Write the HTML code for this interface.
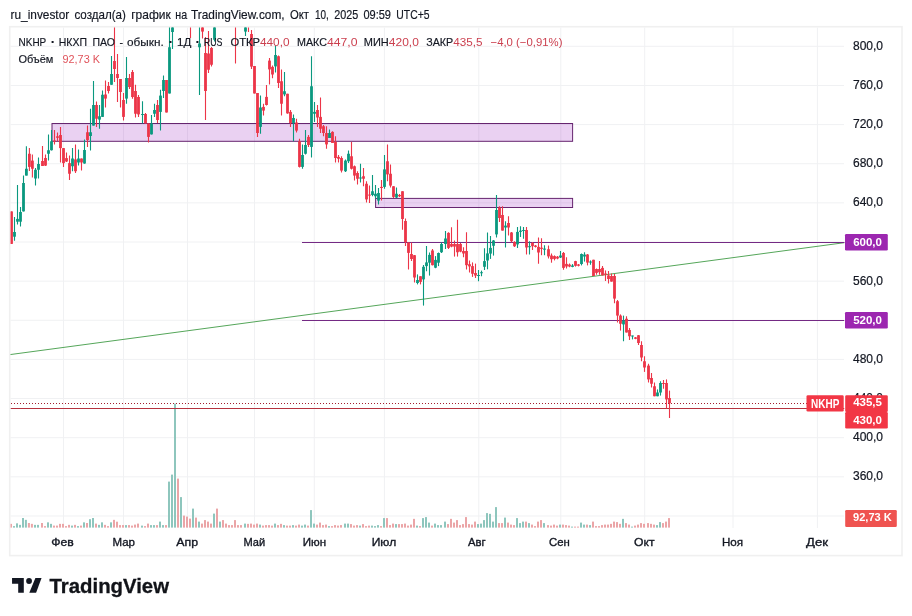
<!DOCTYPE html>
<html lang="ru"><head><meta charset="utf-8"><title>NKHP chart</title>
<style>html,body{margin:0;padding:0;background:#fff}body{width:912px;height:616px;position:relative;overflow:hidden;font-family:"Liberation Sans",sans-serif}</style>
</head><body>
<svg width="912" height="616" viewBox="0 0 912 616" style="position:absolute;left:0;top:0">
<defs><clipPath id="pane"><rect x="10.5" y="27.5" width="834" height="500.5"/></clipPath></defs>
<rect x="9.7" y="26.7" width="892.3" height="528.9" fill="#fff" stroke="#f0f0f0" stroke-width="1.6"/>
<line x1="10.5" x2="844" y1="46.30" y2="46.30" stroke="#f0f1f3" stroke-width="1"/>
<line x1="10.5" x2="844" y1="85.44" y2="85.44" stroke="#f0f1f3" stroke-width="1"/>
<line x1="10.5" x2="844" y1="124.58" y2="124.58" stroke="#f0f1f3" stroke-width="1"/>
<line x1="10.5" x2="844" y1="163.72" y2="163.72" stroke="#f0f1f3" stroke-width="1"/>
<line x1="10.5" x2="844" y1="202.86" y2="202.86" stroke="#f0f1f3" stroke-width="1"/>
<line x1="10.5" x2="844" y1="242.00" y2="242.00" stroke="#f0f1f3" stroke-width="1"/>
<line x1="10.5" x2="844" y1="281.14" y2="281.14" stroke="#f0f1f3" stroke-width="1"/>
<line x1="10.5" x2="844" y1="320.28" y2="320.28" stroke="#f0f1f3" stroke-width="1"/>
<line x1="10.5" x2="844" y1="359.42" y2="359.42" stroke="#f0f1f3" stroke-width="1"/>
<line x1="10.5" x2="844" y1="398.56" y2="398.56" stroke="#f0f1f3" stroke-width="1"/>
<line x1="10.5" x2="844" y1="437.70" y2="437.70" stroke="#f0f1f3" stroke-width="1"/>
<line x1="10.5" x2="844" y1="476.84" y2="476.84" stroke="#f0f1f3" stroke-width="1"/>
<line x1="10.5" x2="844" y1="515.98" y2="515.98" stroke="#f0f1f3" stroke-width="1"/>
<line x1="63.5" x2="63.5" y1="27.5" y2="528" stroke="#f0f1f3" stroke-width="1"/>
<line x1="123.5" x2="123.5" y1="27.5" y2="528" stroke="#f0f1f3" stroke-width="1"/>
<line x1="187.5" x2="187.5" y1="27.5" y2="528" stroke="#f0f1f3" stroke-width="1"/>
<line x1="254.5" x2="254.5" y1="27.5" y2="528" stroke="#f0f1f3" stroke-width="1"/>
<line x1="314.3" x2="314.3" y1="27.5" y2="528" stroke="#f0f1f3" stroke-width="1"/>
<line x1="384.4" x2="384.4" y1="27.5" y2="528" stroke="#f0f1f3" stroke-width="1"/>
<line x1="478.8" x2="478.8" y1="27.5" y2="528" stroke="#f0f1f3" stroke-width="1"/>
<line x1="560.8" x2="560.8" y1="27.5" y2="528" stroke="#f0f1f3" stroke-width="1"/>
<line x1="644.7" x2="644.7" y1="27.5" y2="528" stroke="#f0f1f3" stroke-width="1"/>
<line x1="733" x2="733" y1="27.5" y2="528" stroke="#f0f1f3" stroke-width="1"/>
<line x1="817.4" x2="817.4" y1="27.5" y2="528" stroke="#f0f1f3" stroke-width="1"/>
<g clip-path="url(#pane)">
<rect x="10.0" y="523.85" width="2" height="3.75" fill="#eba5a7"/>
<rect x="13.0" y="526.10" width="2" height="1.50" fill="#8ec6bd"/>
<rect x="16.0" y="523.35" width="2" height="4.25" fill="#8ec6bd"/>
<rect x="19.0" y="524.85" width="2" height="2.75" fill="#8ec6bd"/>
<rect x="22.0" y="518.00" width="2" height="9.60" fill="#8ec6bd"/>
<rect x="24.9" y="519.85" width="2" height="7.75" fill="#8ec6bd"/>
<rect x="27.9" y="523.00" width="2" height="4.60" fill="#eba5a7"/>
<rect x="30.9" y="523.85" width="2" height="3.75" fill="#eba5a7"/>
<rect x="34.0" y="524.85" width="2" height="2.75" fill="#8ec6bd"/>
<rect x="37.0" y="524.85" width="2" height="2.75" fill="#8ec6bd"/>
<rect x="41.0" y="523.00" width="2" height="4.60" fill="#eba5a7"/>
<rect x="44.0" y="526.10" width="2" height="1.50" fill="#eba5a7"/>
<rect x="47.0" y="522.35" width="2" height="5.25" fill="#8ec6bd"/>
<rect x="50.0" y="523.85" width="2" height="3.75" fill="#8ec6bd"/>
<rect x="53.0" y="525.60" width="2" height="2.00" fill="#eba5a7"/>
<rect x="56.0" y="525.60" width="2" height="2.00" fill="#eba5a7"/>
<rect x="59.0" y="523.85" width="2" height="3.75" fill="#eba5a7"/>
<rect x="62.0" y="523.85" width="2" height="3.75" fill="#eba5a7"/>
<rect x="65.0" y="526.10" width="2" height="1.50" fill="#eba5a7"/>
<rect x="68.0" y="524.85" width="2" height="2.75" fill="#eba5a7"/>
<rect x="71.0" y="525.60" width="2" height="2.00" fill="#8ec6bd"/>
<rect x="74.0" y="524.85" width="2" height="2.75" fill="#eba5a7"/>
<rect x="77.0" y="526.10" width="2" height="1.50" fill="#8ec6bd"/>
<rect x="80.0" y="525.60" width="2" height="2.00" fill="#eba5a7"/>
<rect x="83.0" y="522.35" width="2" height="5.25" fill="#8ec6bd"/>
<rect x="86.0" y="523.00" width="2" height="4.60" fill="#eba5a7"/>
<rect x="89.0" y="519.20" width="2" height="8.40" fill="#8ec6bd"/>
<rect x="92.0" y="518.00" width="2" height="9.60" fill="#8ec6bd"/>
<rect x="95.0" y="523.60" width="2" height="4.00" fill="#eba5a7"/>
<rect x="98.0" y="524.85" width="2" height="2.75" fill="#8ec6bd"/>
<rect x="101.0" y="522.35" width="2" height="5.25" fill="#8ec6bd"/>
<rect x="104.0" y="524.85" width="2" height="2.75" fill="#eba5a7"/>
<rect x="107.0" y="526.10" width="2" height="1.50" fill="#eba5a7"/>
<rect x="110.0" y="522.35" width="2" height="5.25" fill="#8ec6bd"/>
<rect x="113.0" y="519.85" width="2" height="7.75" fill="#eba5a7"/>
<rect x="116.0" y="521.70" width="2" height="5.90" fill="#eba5a7"/>
<rect x="119.0" y="525.10" width="2" height="2.50" fill="#eba5a7"/>
<rect x="122.0" y="525.10" width="2" height="2.50" fill="#eba5a7"/>
<rect x="125.0" y="525.10" width="2" height="2.50" fill="#8ec6bd"/>
<rect x="128.0" y="525.10" width="2" height="2.50" fill="#eba5a7"/>
<rect x="131.0" y="525.60" width="2" height="2.00" fill="#eba5a7"/>
<rect x="134.0" y="524.60" width="2" height="3.00" fill="#eba5a7"/>
<rect x="137.0" y="523.60" width="2" height="4.00" fill="#eba5a7"/>
<rect x="141.0" y="525.60" width="2" height="2.00" fill="#8ec6bd"/>
<rect x="144.0" y="526.10" width="2" height="1.50" fill="#eba5a7"/>
<rect x="147.0" y="523.60" width="2" height="4.00" fill="#eba5a7"/>
<rect x="150.0" y="525.10" width="2" height="2.50" fill="#8ec6bd"/>
<rect x="153.0" y="525.10" width="2" height="2.50" fill="#8ec6bd"/>
<rect x="156.0" y="525.10" width="2" height="2.50" fill="#eba5a7"/>
<rect x="159.0" y="521.60" width="2" height="6.00" fill="#8ec6bd"/>
<rect x="162.0" y="525.10" width="2" height="2.50" fill="#8ec6bd"/>
<rect x="165.0" y="525.10" width="2" height="2.50" fill="#eba5a7"/>
<rect x="168.0" y="481.60" width="2" height="46.00" fill="#8ec6bd"/>
<rect x="171.0" y="474.60" width="2" height="53.00" fill="#8ec6bd"/>
<rect x="174.0" y="403.60" width="2" height="124.00" fill="#8ec6bd"/>
<rect x="177.0" y="478.60" width="2" height="49.00" fill="#eba5a7"/>
<rect x="180.0" y="497.10" width="2" height="30.50" fill="#8ec6bd"/>
<rect x="183.0" y="515.60" width="2" height="12.00" fill="#eba5a7"/>
<rect x="186.0" y="516.60" width="2" height="11.00" fill="#eba5a7"/>
<rect x="189.0" y="518.60" width="2" height="9.00" fill="#eba5a7"/>
<rect x="192.0" y="508.60" width="2" height="19.00" fill="#8ec6bd"/>
<rect x="195.0" y="517.60" width="2" height="10.00" fill="#eba5a7"/>
<rect x="198.0" y="521.60" width="2" height="6.00" fill="#8ec6bd"/>
<rect x="201.0" y="523.60" width="2" height="4.00" fill="#eba5a7"/>
<rect x="204.0" y="520.10" width="2" height="7.50" fill="#eba5a7"/>
<rect x="207.0" y="521.60" width="2" height="6.00" fill="#eba5a7"/>
<rect x="210.0" y="523.60" width="2" height="4.00" fill="#eba5a7"/>
<rect x="213.0" y="513.60" width="2" height="14.00" fill="#8ec6bd"/>
<rect x="216.0" y="508.60" width="2" height="19.00" fill="#eba5a7"/>
<rect x="219.0" y="521.60" width="2" height="6.00" fill="#8ec6bd"/>
<rect x="222.0" y="520.10" width="2" height="7.50" fill="#eba5a7"/>
<rect x="225.0" y="523.60" width="2" height="4.00" fill="#eba5a7"/>
<rect x="228.0" y="525.10" width="2" height="2.50" fill="#eba5a7"/>
<rect x="231.0" y="525.10" width="2" height="2.50" fill="#eba5a7"/>
<rect x="234.0" y="520.10" width="2" height="7.50" fill="#eba5a7"/>
<rect x="237.0" y="525.10" width="2" height="2.50" fill="#eba5a7"/>
<rect x="240.0" y="525.10" width="2" height="2.50" fill="#eba5a7"/>
<rect x="244.0" y="523.60" width="2" height="4.00" fill="#8ec6bd"/>
<rect x="247.0" y="523.85" width="2" height="3.75" fill="#eba5a7"/>
<rect x="250.0" y="523.60" width="2" height="4.00" fill="#eba5a7"/>
<rect x="253.0" y="524.60" width="2" height="3.00" fill="#eba5a7"/>
<rect x="256.0" y="523.60" width="2" height="4.00" fill="#eba5a7"/>
<rect x="259.0" y="524.60" width="2" height="3.00" fill="#8ec6bd"/>
<rect x="262.0" y="525.60" width="2" height="2.00" fill="#eba5a7"/>
<rect x="265.0" y="525.10" width="2" height="2.50" fill="#eba5a7"/>
<rect x="268.0" y="525.10" width="2" height="2.50" fill="#eba5a7"/>
<rect x="271.0" y="525.60" width="2" height="2.00" fill="#eba5a7"/>
<rect x="274.0" y="523.60" width="2" height="4.00" fill="#8ec6bd"/>
<rect x="277.0" y="525.10" width="2" height="2.50" fill="#eba5a7"/>
<rect x="280.0" y="523.85" width="2" height="3.75" fill="#eba5a7"/>
<rect x="283.0" y="525.10" width="2" height="2.50" fill="#8ec6bd"/>
<rect x="286.0" y="525.60" width="2" height="2.00" fill="#eba5a7"/>
<rect x="289.0" y="525.60" width="2" height="2.00" fill="#eba5a7"/>
<rect x="292.0" y="525.10" width="2" height="2.50" fill="#8ec6bd"/>
<rect x="295.0" y="525.60" width="2" height="2.00" fill="#eba5a7"/>
<rect x="298.0" y="524.60" width="2" height="3.00" fill="#eba5a7"/>
<rect x="301.0" y="525.60" width="2" height="2.00" fill="#8ec6bd"/>
<rect x="304.0" y="524.60" width="2" height="3.00" fill="#8ec6bd"/>
<rect x="307.0" y="525.60" width="2" height="2.00" fill="#eba5a7"/>
<rect x="310.0" y="510.10" width="2" height="17.50" fill="#8ec6bd"/>
<rect x="313.0" y="523.60" width="2" height="4.00" fill="#8ec6bd"/>
<rect x="316.0" y="524.60" width="2" height="3.00" fill="#eba5a7"/>
<rect x="319.0" y="522.60" width="2" height="5.00" fill="#eba5a7"/>
<rect x="322.0" y="525.10" width="2" height="2.50" fill="#eba5a7"/>
<rect x="325.0" y="524.60" width="2" height="3.00" fill="#eba5a7"/>
<rect x="328.0" y="526.10" width="2" height="1.50" fill="#8ec6bd"/>
<rect x="331.0" y="526.10" width="2" height="1.50" fill="#eba5a7"/>
<rect x="334.0" y="525.10" width="2" height="2.50" fill="#eba5a7"/>
<rect x="337.0" y="525.60" width="2" height="2.00" fill="#eba5a7"/>
<rect x="340.0" y="525.10" width="2" height="2.50" fill="#eba5a7"/>
<rect x="344.0" y="523.60" width="2" height="4.00" fill="#8ec6bd"/>
<rect x="347.0" y="523.60" width="2" height="4.00" fill="#8ec6bd"/>
<rect x="350.0" y="524.10" width="2" height="3.50" fill="#eba5a7"/>
<rect x="353.0" y="525.60" width="2" height="2.00" fill="#eba5a7"/>
<rect x="356.0" y="525.10" width="2" height="2.50" fill="#eba5a7"/>
<rect x="359.0" y="525.60" width="2" height="2.00" fill="#8ec6bd"/>
<rect x="362.0" y="524.10" width="2" height="3.50" fill="#eba5a7"/>
<rect x="365.0" y="526.10" width="2" height="1.50" fill="#eba5a7"/>
<rect x="368.0" y="525.60" width="2" height="2.00" fill="#eba5a7"/>
<rect x="371.0" y="525.60" width="2" height="2.00" fill="#8ec6bd"/>
<rect x="374.0" y="526.10" width="2" height="1.50" fill="#8ec6bd"/>
<rect x="377.0" y="525.10" width="2" height="2.50" fill="#8ec6bd"/>
<rect x="380.0" y="526.10" width="2" height="1.50" fill="#eba5a7"/>
<rect x="383.0" y="518.10" width="2" height="9.50" fill="#8ec6bd"/>
<rect x="386.0" y="518.10" width="2" height="9.50" fill="#eba5a7"/>
<rect x="389.0" y="525.10" width="2" height="2.50" fill="#eba5a7"/>
<rect x="392.0" y="523.60" width="2" height="4.00" fill="#eba5a7"/>
<rect x="395.0" y="524.10" width="2" height="3.50" fill="#8ec6bd"/>
<rect x="398.0" y="524.10" width="2" height="3.50" fill="#eba5a7"/>
<rect x="401.0" y="524.10" width="2" height="3.50" fill="#eba5a7"/>
<rect x="404.0" y="523.60" width="2" height="4.00" fill="#eba5a7"/>
<rect x="407.0" y="525.60" width="2" height="2.00" fill="#eba5a7"/>
<rect x="410.0" y="524.60" width="2" height="3.00" fill="#eba5a7"/>
<rect x="413.0" y="518.85" width="2" height="8.75" fill="#eba5a7"/>
<rect x="416.0" y="525.60" width="2" height="2.00" fill="#8ec6bd"/>
<rect x="419.0" y="526.10" width="2" height="1.50" fill="#eba5a7"/>
<rect x="422.0" y="518.10" width="2" height="9.50" fill="#8ec6bd"/>
<rect x="425.0" y="517.10" width="2" height="10.50" fill="#8ec6bd"/>
<rect x="428.0" y="522.60" width="2" height="5.00" fill="#8ec6bd"/>
<rect x="431.0" y="525.60" width="2" height="2.00" fill="#eba5a7"/>
<rect x="434.0" y="523.60" width="2" height="4.00" fill="#8ec6bd"/>
<rect x="437.0" y="525.10" width="2" height="2.50" fill="#8ec6bd"/>
<rect x="440.0" y="525.10" width="2" height="2.50" fill="#8ec6bd"/>
<rect x="444.0" y="521.60" width="2" height="6.00" fill="#8ec6bd"/>
<rect x="447.0" y="524.10" width="2" height="3.50" fill="#eba5a7"/>
<rect x="450.0" y="518.85" width="2" height="8.75" fill="#eba5a7"/>
<rect x="453.0" y="522.60" width="2" height="5.00" fill="#eba5a7"/>
<rect x="456.0" y="520.10" width="2" height="7.50" fill="#eba5a7"/>
<rect x="459.0" y="525.10" width="2" height="2.50" fill="#eba5a7"/>
<rect x="462.0" y="524.10" width="2" height="3.50" fill="#eba5a7"/>
<rect x="465.0" y="517.10" width="2" height="10.50" fill="#eba5a7"/>
<rect x="468.0" y="524.10" width="2" height="3.50" fill="#eba5a7"/>
<rect x="471.0" y="524.60" width="2" height="3.00" fill="#eba5a7"/>
<rect x="474.0" y="521.60" width="2" height="6.00" fill="#eba5a7"/>
<rect x="477.0" y="524.10" width="2" height="3.50" fill="#8ec6bd"/>
<rect x="480.0" y="523.60" width="2" height="4.00" fill="#8ec6bd"/>
<rect x="483.0" y="520.10" width="2" height="7.50" fill="#8ec6bd"/>
<rect x="486.0" y="513.10" width="2" height="14.50" fill="#8ec6bd"/>
<rect x="489.0" y="513.85" width="2" height="13.75" fill="#8ec6bd"/>
<rect x="492.0" y="521.60" width="2" height="6.00" fill="#8ec6bd"/>
<rect x="495.0" y="507.10" width="2" height="20.50" fill="#8ec6bd"/>
<rect x="498.0" y="523.10" width="2" height="4.50" fill="#eba5a7"/>
<rect x="501.0" y="523.10" width="2" height="4.50" fill="#eba5a7"/>
<rect x="504.0" y="517.60" width="2" height="10.00" fill="#8ec6bd"/>
<rect x="507.0" y="522.60" width="2" height="5.00" fill="#eba5a7"/>
<rect x="510.0" y="524.60" width="2" height="3.00" fill="#eba5a7"/>
<rect x="513.0" y="525.10" width="2" height="2.50" fill="#eba5a7"/>
<rect x="516.0" y="518.10" width="2" height="9.50" fill="#8ec6bd"/>
<rect x="519.0" y="523.10" width="2" height="4.50" fill="#8ec6bd"/>
<rect x="522.0" y="521.60" width="2" height="6.00" fill="#8ec6bd"/>
<rect x="525.0" y="521.60" width="2" height="6.00" fill="#eba5a7"/>
<rect x="528.0" y="523.10" width="2" height="4.50" fill="#8ec6bd"/>
<rect x="531.0" y="524.60" width="2" height="3.00" fill="#eba5a7"/>
<rect x="534.0" y="526.10" width="2" height="1.50" fill="#eba5a7"/>
<rect x="537.0" y="521.60" width="2" height="6.00" fill="#eba5a7"/>
<rect x="540.0" y="520.10" width="2" height="7.50" fill="#eba5a7"/>
<rect x="543.0" y="523.10" width="2" height="4.50" fill="#8ec6bd"/>
<rect x="547.0" y="525.10" width="2" height="2.50" fill="#eba5a7"/>
<rect x="550.0" y="525.60" width="2" height="2.00" fill="#eba5a7"/>
<rect x="553.0" y="524.60" width="2" height="3.00" fill="#eba5a7"/>
<rect x="556.0" y="525.60" width="2" height="2.00" fill="#eba5a7"/>
<rect x="559.0" y="524.60" width="2" height="3.00" fill="#8ec6bd"/>
<rect x="562.0" y="524.60" width="2" height="3.00" fill="#eba5a7"/>
<rect x="565.0" y="525.10" width="2" height="2.50" fill="#eba5a7"/>
<rect x="568.0" y="525.60" width="2" height="2.00" fill="#eba5a7"/>
<rect x="571.0" y="526.60" width="2" height="1.00" fill="#8ec6bd"/>
<rect x="574.0" y="526.60" width="2" height="1.00" fill="#eba5a7"/>
<rect x="577.0" y="526.60" width="2" height="1.00" fill="#eba5a7"/>
<rect x="580.0" y="522.60" width="2" height="5.00" fill="#8ec6bd"/>
<rect x="583.0" y="524.60" width="2" height="3.00" fill="#8ec6bd"/>
<rect x="586.0" y="524.60" width="2" height="3.00" fill="#eba5a7"/>
<rect x="589.0" y="525.10" width="2" height="2.50" fill="#8ec6bd"/>
<rect x="592.0" y="521.60" width="2" height="6.00" fill="#eba5a7"/>
<rect x="595.0" y="526.10" width="2" height="1.50" fill="#eba5a7"/>
<rect x="598.0" y="526.10" width="2" height="1.50" fill="#eba5a7"/>
<rect x="601.0" y="525.10" width="2" height="2.50" fill="#eba5a7"/>
<rect x="604.0" y="524.60" width="2" height="3.00" fill="#eba5a7"/>
<rect x="607.0" y="524.60" width="2" height="3.00" fill="#eba5a7"/>
<rect x="610.0" y="523.85" width="2" height="3.75" fill="#eba5a7"/>
<rect x="613.0" y="521.60" width="2" height="6.00" fill="#eba5a7"/>
<rect x="616.0" y="522.10" width="2" height="5.50" fill="#eba5a7"/>
<rect x="619.0" y="523.85" width="2" height="3.75" fill="#eba5a7"/>
<rect x="622.0" y="518.85" width="2" height="8.75" fill="#8ec6bd"/>
<rect x="625.0" y="523.10" width="2" height="4.50" fill="#eba5a7"/>
<rect x="628.0" y="524.60" width="2" height="3.00" fill="#eba5a7"/>
<rect x="631.0" y="526.60" width="2" height="1.00" fill="#8ec6bd"/>
<rect x="634.0" y="525.60" width="2" height="2.00" fill="#eba5a7"/>
<rect x="637.0" y="524.60" width="2" height="3.00" fill="#eba5a7"/>
<rect x="640.0" y="523.10" width="2" height="4.50" fill="#eba5a7"/>
<rect x="643.0" y="523.85" width="2" height="3.75" fill="#eba5a7"/>
<rect x="647.0" y="523.10" width="2" height="4.50" fill="#eba5a7"/>
<rect x="650.0" y="523.85" width="2" height="3.75" fill="#eba5a7"/>
<rect x="653.0" y="524.60" width="2" height="3.00" fill="#eba5a7"/>
<rect x="656.0" y="525.10" width="2" height="2.50" fill="#8ec6bd"/>
<rect x="659.0" y="522.10" width="2" height="5.50" fill="#8ec6bd"/>
<rect x="662.0" y="523.10" width="2" height="4.50" fill="#eba5a7"/>
<rect x="665.0" y="521.60" width="2" height="6.00" fill="#eba5a7"/>
<rect x="668.0" y="518.10" width="2" height="9.50" fill="#eba5a7"/>
<line x1="10" y1="354.6" x2="845" y2="242.6" stroke="#55a65a" stroke-width="1"/>
<rect x="52" y="123.5" width="520.6" height="17.8" fill="rgba(150,25,190,0.2)" stroke="#66256f" stroke-width="1"/>
<rect x="375.6" y="198.4" width="197" height="9.1" fill="rgba(150,25,190,0.2)" stroke="#66256f" stroke-width="1"/>
<line x1="302" x2="844.5" y1="242.5" y2="242.5" stroke="#742a84" stroke-width="1"/>
<line x1="302" x2="844.5" y1="320.5" y2="320.5" stroke="#742a84" stroke-width="1"/>
<line x1="11" x2="844.5" y1="403.6" y2="403.6" stroke="#a51e2e" stroke-width="1.2" stroke-dasharray="1.2 1.8" shape-rendering="crispEdges"/>
<line x1="10.5" x2="844.5" y1="408.5" y2="408.5" stroke="#b5323f" stroke-width="1.1"/>
<line x1="11.5" x2="11.5" y1="211.40" y2="243.90" stroke="#ec3548" stroke-width="1.1"/>
<rect x="10.10" y="211.40" width="2.8" height="32.50" fill="#ec3548"/>
<line x1="14.5" x2="14.5" y1="217.00" y2="240.70" stroke="#0a987f" stroke-width="1.1"/>
<rect x="13.10" y="232.00" width="2.8" height="4.70" fill="#0a987f"/>
<line x1="17.5" x2="17.5" y1="185.00" y2="224.50" stroke="#0a987f" stroke-width="1.1"/>
<rect x="16.10" y="218.90" width="2.8" height="2.80" fill="#0a987f"/>
<line x1="20.5" x2="20.5" y1="207.00" y2="226.50" stroke="#0a987f" stroke-width="1.1"/>
<rect x="19.10" y="212.00" width="2.8" height="9.70" fill="#0a987f"/>
<line x1="23.5" x2="23.5" y1="175.60" y2="211.40" stroke="#0a987f" stroke-width="1.1"/>
<rect x="22.10" y="183.00" width="2.8" height="28.40" fill="#0a987f"/>
<line x1="26.4" x2="26.4" y1="146.25" y2="175.60" stroke="#0a987f" stroke-width="1.1"/>
<rect x="25.00" y="168.75" width="2.8" height="6.85" fill="#0a987f"/>
<line x1="29.4" x2="29.4" y1="148.00" y2="171.00" stroke="#ec3548" stroke-width="1.1"/>
<rect x="28.00" y="153.75" width="2.8" height="13.15" fill="#ec3548"/>
<line x1="32.4" x2="32.4" y1="154.40" y2="177.50" stroke="#ec3548" stroke-width="1.1"/>
<rect x="31.00" y="160.60" width="2.8" height="8.15" fill="#ec3548"/>
<line x1="35.5" x2="35.5" y1="168.00" y2="185.60" stroke="#0a987f" stroke-width="1.1"/>
<rect x="34.10" y="169.75" width="2.8" height="8.75" fill="#0a987f"/>
<line x1="38.5" x2="38.5" y1="157.50" y2="178.50" stroke="#0a987f" stroke-width="1.1"/>
<rect x="37.10" y="164.00" width="2.8" height="5.75" fill="#0a987f"/>
<line x1="42.5" x2="42.5" y1="146.00" y2="166.00" stroke="#ec3548" stroke-width="1.1"/>
<rect x="41.10" y="161.00" width="2.8" height="5.00" fill="#ec3548"/>
<line x1="45.5" x2="45.5" y1="154.40" y2="166.00" stroke="#ec3548" stroke-width="1.1"/>
<rect x="44.10" y="158.00" width="2.8" height="7.60" fill="#ec3548"/>
<line x1="48.5" x2="48.5" y1="134.40" y2="160.60" stroke="#0a987f" stroke-width="1.1"/>
<rect x="47.10" y="150.25" width="2.8" height="3.50" fill="#0a987f"/>
<line x1="51.5" x2="51.5" y1="130.00" y2="150.60" stroke="#0a987f" stroke-width="1.1"/>
<rect x="50.10" y="141.25" width="2.8" height="9.00" fill="#0a987f"/>
<line x1="54.5" x2="54.5" y1="130.00" y2="144.40" stroke="#ec3548" stroke-width="1.1"/>
<rect x="53.10" y="140.50" width="2.8" height="1.00" fill="#ec3548"/>
<line x1="57.5" x2="57.5" y1="132.50" y2="141.25" stroke="#ec3548" stroke-width="1.1"/>
<rect x="56.10" y="136.30" width="2.8" height="1.50" fill="#ec3548"/>
<line x1="60.5" x2="60.5" y1="126.90" y2="162.50" stroke="#ec3548" stroke-width="1.1"/>
<rect x="59.10" y="135.00" width="2.8" height="13.10" fill="#ec3548"/>
<line x1="63.5" x2="63.5" y1="148.00" y2="166.90" stroke="#ec3548" stroke-width="1.1"/>
<rect x="62.10" y="148.10" width="2.8" height="15.00" fill="#ec3548"/>
<line x1="66.5" x2="66.5" y1="152.50" y2="161.90" stroke="#ec3548" stroke-width="1.1"/>
<rect x="65.10" y="158.10" width="2.8" height="3.40" fill="#ec3548"/>
<line x1="69.5" x2="69.5" y1="155.60" y2="180.00" stroke="#ec3548" stroke-width="1.1"/>
<rect x="68.10" y="163.10" width="2.8" height="10.65" fill="#ec3548"/>
<line x1="72.5" x2="72.5" y1="148.00" y2="171.25" stroke="#0a987f" stroke-width="1.1"/>
<rect x="71.10" y="158.50" width="2.8" height="7.75" fill="#0a987f"/>
<line x1="75.5" x2="75.5" y1="144.40" y2="173.00" stroke="#ec3548" stroke-width="1.1"/>
<rect x="74.10" y="159.40" width="2.8" height="11.85" fill="#ec3548"/>
<line x1="78.5" x2="78.5" y1="149.40" y2="165.60" stroke="#0a987f" stroke-width="1.1"/>
<rect x="77.10" y="158.50" width="2.8" height="4.00" fill="#0a987f"/>
<line x1="81.5" x2="81.5" y1="158.50" y2="170.60" stroke="#ec3548" stroke-width="1.1"/>
<rect x="80.10" y="158.50" width="2.8" height="4.00" fill="#ec3548"/>
<line x1="84.5" x2="84.5" y1="139.40" y2="163.75" stroke="#0a987f" stroke-width="1.1"/>
<rect x="83.10" y="150.00" width="2.8" height="13.50" fill="#0a987f"/>
<line x1="87.5" x2="87.5" y1="125.60" y2="146.90" stroke="#ec3548" stroke-width="1.1"/>
<rect x="86.10" y="132.25" width="2.8" height="7.75" fill="#ec3548"/>
<line x1="90.5" x2="90.5" y1="108.75" y2="150.60" stroke="#0a987f" stroke-width="1.1"/>
<rect x="89.10" y="132.25" width="2.8" height="3.75" fill="#0a987f"/>
<line x1="93.5" x2="93.5" y1="81.00" y2="125.60" stroke="#0a987f" stroke-width="1.1"/>
<rect x="92.10" y="105.00" width="2.8" height="20.60" fill="#0a987f"/>
<line x1="96.5" x2="96.5" y1="101.60" y2="126.90" stroke="#ec3548" stroke-width="1.1"/>
<rect x="95.10" y="105.00" width="2.8" height="13.75" fill="#ec3548"/>
<line x1="99.5" x2="99.5" y1="105.00" y2="128.75" stroke="#0a987f" stroke-width="1.1"/>
<rect x="98.10" y="116.25" width="2.8" height="3.35" fill="#0a987f"/>
<line x1="102.5" x2="102.5" y1="90.40" y2="116.90" stroke="#0a987f" stroke-width="1.1"/>
<rect x="101.10" y="94.75" width="2.8" height="22.15" fill="#0a987f"/>
<line x1="105.5" x2="105.5" y1="80.40" y2="107.50" stroke="#ec3548" stroke-width="1.1"/>
<rect x="104.10" y="94.50" width="2.8" height="4.10" fill="#ec3548"/>
<line x1="108.5" x2="108.5" y1="82.00" y2="93.50" stroke="#ec3548" stroke-width="1.1"/>
<rect x="107.10" y="86.00" width="2.8" height="5.00" fill="#ec3548"/>
<line x1="111.5" x2="111.5" y1="56.00" y2="84.75" stroke="#0a987f" stroke-width="1.1"/>
<rect x="110.10" y="74.00" width="2.8" height="10.75" fill="#0a987f"/>
<line x1="114.5" x2="114.5" y1="27.00" y2="82.00" stroke="#ec3548" stroke-width="1.1"/>
<rect x="113.10" y="61.00" width="2.8" height="8.00" fill="#ec3548"/>
<line x1="117.5" x2="117.5" y1="54.00" y2="101.90" stroke="#ec3548" stroke-width="1.1"/>
<rect x="116.10" y="74.00" width="2.8" height="4.00" fill="#ec3548"/>
<line x1="120.5" x2="120.5" y1="79.00" y2="107.50" stroke="#ec3548" stroke-width="1.1"/>
<rect x="119.10" y="79.00" width="2.8" height="13.00" fill="#ec3548"/>
<line x1="123.5" x2="123.5" y1="93.00" y2="120.60" stroke="#ec3548" stroke-width="1.1"/>
<rect x="122.10" y="100.00" width="2.8" height="16.90" fill="#ec3548"/>
<line x1="126.5" x2="126.5" y1="57.00" y2="103.75" stroke="#0a987f" stroke-width="1.1"/>
<rect x="125.10" y="78.00" width="2.8" height="20.60" fill="#0a987f"/>
<line x1="129.5" x2="129.5" y1="74.00" y2="89.00" stroke="#ec3548" stroke-width="1.1"/>
<rect x="128.10" y="78.00" width="2.8" height="9.00" fill="#ec3548"/>
<line x1="132.5" x2="132.5" y1="70.00" y2="98.75" stroke="#ec3548" stroke-width="1.1"/>
<rect x="131.10" y="72.00" width="2.8" height="25.00" fill="#ec3548"/>
<line x1="135.5" x2="135.5" y1="84.75" y2="117.50" stroke="#ec3548" stroke-width="1.1"/>
<rect x="134.10" y="91.00" width="2.8" height="22.75" fill="#ec3548"/>
<line x1="138.5" x2="138.5" y1="95.00" y2="116.90" stroke="#ec3548" stroke-width="1.1"/>
<rect x="137.10" y="97.00" width="2.8" height="17.40" fill="#ec3548"/>
<line x1="142.5" x2="142.5" y1="101.25" y2="123.50" stroke="#0a987f" stroke-width="1.1"/>
<rect x="141.10" y="114.00" width="2.8" height="1.00" fill="#0a987f"/>
<line x1="145.5" x2="145.5" y1="113.00" y2="123.50" stroke="#ec3548" stroke-width="1.1"/>
<rect x="144.10" y="114.00" width="2.8" height="9.50" fill="#ec3548"/>
<line x1="148.5" x2="148.5" y1="123.50" y2="142.50" stroke="#ec3548" stroke-width="1.1"/>
<rect x="147.10" y="123.50" width="2.8" height="13.40" fill="#ec3548"/>
<line x1="151.5" x2="151.5" y1="115.00" y2="134.40" stroke="#0a987f" stroke-width="1.1"/>
<rect x="150.10" y="123.50" width="2.8" height="10.90" fill="#0a987f"/>
<line x1="154.5" x2="154.5" y1="103.75" y2="116.90" stroke="#0a987f" stroke-width="1.1"/>
<rect x="153.10" y="110.00" width="2.8" height="3.75" fill="#0a987f"/>
<line x1="157.5" x2="157.5" y1="100.00" y2="123.00" stroke="#ec3548" stroke-width="1.1"/>
<rect x="156.10" y="105.00" width="2.8" height="15.00" fill="#ec3548"/>
<line x1="160.5" x2="160.5" y1="89.75" y2="130.60" stroke="#0a987f" stroke-width="1.1"/>
<rect x="159.10" y="95.60" width="2.8" height="16.30" fill="#0a987f"/>
<line x1="163.5" x2="163.5" y1="75.40" y2="98.00" stroke="#0a987f" stroke-width="1.1"/>
<rect x="162.10" y="80.00" width="2.8" height="11.00" fill="#0a987f"/>
<line x1="166.5" x2="166.5" y1="80.00" y2="112.50" stroke="#ec3548" stroke-width="1.1"/>
<rect x="165.10" y="80.00" width="2.8" height="32.50" fill="#ec3548"/>
<line x1="169.5" x2="169.5" y1="27.00" y2="93.50" stroke="#0a987f" stroke-width="1.1"/>
<rect x="168.10" y="47.25" width="2.8" height="46.25" fill="#0a987f"/>
<line x1="172.5" x2="172.5" y1="20.00" y2="49.00" stroke="#0a987f" stroke-width="1.1"/>
<rect x="171.10" y="20.00" width="2.8" height="12.00" fill="#0a987f"/>
<line x1="190.5" x2="190.5" y1="20.00" y2="38.00" stroke="#ec3548" stroke-width="1.1"/>
<rect x="189.10" y="20.00" width="2.8" height="1.00" fill="#ec3548"/>
<line x1="199.5" x2="199.5" y1="20.00" y2="95.00" stroke="#0a987f" stroke-width="1.1"/>
<rect x="198.10" y="43.50" width="2.8" height="3.75" fill="#0a987f"/>
<line x1="202.5" x2="202.5" y1="20.00" y2="38.50" stroke="#ec3548" stroke-width="1.1"/>
<rect x="201.10" y="20.00" width="2.8" height="11.60" fill="#ec3548"/>
<line x1="205.5" x2="205.5" y1="37.00" y2="120.00" stroke="#ec3548" stroke-width="1.1"/>
<rect x="204.10" y="53.00" width="2.8" height="38.00" fill="#ec3548"/>
<line x1="208.5" x2="208.5" y1="31.00" y2="73.00" stroke="#ec3548" stroke-width="1.1"/>
<rect x="207.10" y="53.50" width="2.8" height="16.25" fill="#ec3548"/>
<line x1="211.5" x2="211.5" y1="47.00" y2="66.60" stroke="#ec3548" stroke-width="1.1"/>
<rect x="210.10" y="48.00" width="2.8" height="16.75" fill="#ec3548"/>
<line x1="214.5" x2="214.5" y1="20.00" y2="41.60" stroke="#0a987f" stroke-width="1.1"/>
<rect x="213.10" y="20.00" width="2.8" height="19.75" fill="#0a987f"/>
<line x1="235.5" x2="235.5" y1="20.00" y2="63.50" stroke="#ec3548" stroke-width="1.1"/>
<rect x="234.10" y="20.00" width="2.8" height="1.00" fill="#ec3548"/>
<line x1="245.5" x2="245.5" y1="20.00" y2="36.00" stroke="#0a987f" stroke-width="1.1"/>
<rect x="244.10" y="20.00" width="2.8" height="11.60" fill="#0a987f"/>
<line x1="248.5" x2="248.5" y1="20.00" y2="32.00" stroke="#ec3548" stroke-width="1.1"/>
<rect x="247.10" y="20.00" width="2.8" height="1.00" fill="#ec3548"/>
<line x1="251.5" x2="251.5" y1="30.00" y2="69.00" stroke="#ec3548" stroke-width="1.1"/>
<rect x="250.10" y="34.00" width="2.8" height="32.60" fill="#ec3548"/>
<line x1="254.5" x2="254.5" y1="66.00" y2="93.50" stroke="#ec3548" stroke-width="1.1"/>
<rect x="253.10" y="66.00" width="2.8" height="27.50" fill="#ec3548"/>
<line x1="257.5" x2="257.5" y1="93.00" y2="136.90" stroke="#ec3548" stroke-width="1.1"/>
<rect x="256.10" y="93.00" width="2.8" height="40.00" fill="#ec3548"/>
<line x1="260.5" x2="260.5" y1="95.60" y2="133.75" stroke="#0a987f" stroke-width="1.1"/>
<rect x="259.10" y="107.50" width="2.8" height="19.40" fill="#0a987f"/>
<line x1="263.5" x2="263.5" y1="103.75" y2="115.60" stroke="#ec3548" stroke-width="1.1"/>
<rect x="262.10" y="106.90" width="2.8" height="3.70" fill="#ec3548"/>
<line x1="266.5" x2="266.5" y1="85.00" y2="105.60" stroke="#ec3548" stroke-width="1.1"/>
<rect x="265.10" y="96.90" width="2.8" height="8.10" fill="#ec3548"/>
<line x1="269.5" x2="269.5" y1="58.00" y2="84.50" stroke="#ec3548" stroke-width="1.1"/>
<rect x="268.10" y="60.60" width="2.8" height="8.80" fill="#ec3548"/>
<line x1="272.5" x2="272.5" y1="65.60" y2="78.25" stroke="#ec3548" stroke-width="1.1"/>
<rect x="271.10" y="66.90" width="2.8" height="7.60" fill="#ec3548"/>
<line x1="275.5" x2="275.5" y1="45.50" y2="72.50" stroke="#0a987f" stroke-width="1.1"/>
<rect x="274.10" y="55.00" width="2.8" height="11.40" fill="#0a987f"/>
<line x1="278.5" x2="278.5" y1="55.60" y2="88.00" stroke="#ec3548" stroke-width="1.1"/>
<rect x="277.10" y="56.25" width="2.8" height="26.75" fill="#ec3548"/>
<line x1="281.5" x2="281.5" y1="69.40" y2="115.60" stroke="#ec3548" stroke-width="1.1"/>
<rect x="280.10" y="81.25" width="2.8" height="22.50" fill="#ec3548"/>
<line x1="284.5" x2="284.5" y1="72.00" y2="96.25" stroke="#0a987f" stroke-width="1.1"/>
<rect x="283.10" y="91.25" width="2.8" height="3.15" fill="#0a987f"/>
<line x1="287.5" x2="287.5" y1="93.75" y2="113.75" stroke="#ec3548" stroke-width="1.1"/>
<rect x="286.10" y="93.75" width="2.8" height="19.65" fill="#ec3548"/>
<line x1="290.5" x2="290.5" y1="110.00" y2="126.90" stroke="#ec3548" stroke-width="1.1"/>
<rect x="289.10" y="111.90" width="2.8" height="11.10" fill="#ec3548"/>
<line x1="293.5" x2="293.5" y1="114.40" y2="141.25" stroke="#0a987f" stroke-width="1.1"/>
<rect x="292.10" y="118.00" width="2.8" height="5.00" fill="#0a987f"/>
<line x1="296.5" x2="296.5" y1="118.75" y2="132.50" stroke="#ec3548" stroke-width="1.1"/>
<rect x="295.10" y="122.50" width="2.8" height="8.10" fill="#ec3548"/>
<line x1="299.5" x2="299.5" y1="138.75" y2="167.50" stroke="#ec3548" stroke-width="1.1"/>
<rect x="298.10" y="141.25" width="2.8" height="25.65" fill="#ec3548"/>
<line x1="302.5" x2="302.5" y1="144.40" y2="168.75" stroke="#0a987f" stroke-width="1.1"/>
<rect x="301.10" y="155.00" width="2.8" height="11.90" fill="#0a987f"/>
<line x1="305.5" x2="305.5" y1="130.00" y2="154.40" stroke="#0a987f" stroke-width="1.1"/>
<rect x="304.10" y="145.00" width="2.8" height="8.75" fill="#0a987f"/>
<line x1="308.5" x2="308.5" y1="135.00" y2="146.90" stroke="#ec3548" stroke-width="1.1"/>
<rect x="307.10" y="136.90" width="2.8" height="8.10" fill="#ec3548"/>
<line x1="311.5" x2="311.5" y1="56.25" y2="157.50" stroke="#0a987f" stroke-width="1.1"/>
<rect x="310.10" y="86.25" width="2.8" height="60.65" fill="#0a987f"/>
<line x1="314.5" x2="314.5" y1="102.00" y2="121.90" stroke="#0a987f" stroke-width="1.1"/>
<rect x="313.10" y="111.90" width="2.8" height="1.85" fill="#0a987f"/>
<line x1="317.5" x2="317.5" y1="105.00" y2="126.90" stroke="#ec3548" stroke-width="1.1"/>
<rect x="316.10" y="110.00" width="2.8" height="7.50" fill="#ec3548"/>
<line x1="320.5" x2="320.5" y1="97.50" y2="133.00" stroke="#ec3548" stroke-width="1.1"/>
<rect x="319.10" y="116.90" width="2.8" height="11.85" fill="#ec3548"/>
<line x1="323.5" x2="323.5" y1="125.00" y2="136.25" stroke="#ec3548" stroke-width="1.1"/>
<rect x="322.10" y="126.25" width="2.8" height="6.75" fill="#ec3548"/>
<line x1="326.5" x2="326.5" y1="126.25" y2="148.75" stroke="#ec3548" stroke-width="1.1"/>
<rect x="325.10" y="133.00" width="2.8" height="11.40" fill="#ec3548"/>
<line x1="329.5" x2="329.5" y1="129.40" y2="138.00" stroke="#0a987f" stroke-width="1.1"/>
<rect x="328.10" y="133.00" width="2.8" height="5.00" fill="#0a987f"/>
<line x1="332.5" x2="332.5" y1="131.25" y2="143.00" stroke="#ec3548" stroke-width="1.1"/>
<rect x="331.10" y="131.90" width="2.8" height="11.10" fill="#ec3548"/>
<line x1="335.5" x2="335.5" y1="136.25" y2="162.50" stroke="#ec3548" stroke-width="1.1"/>
<rect x="334.10" y="141.90" width="2.8" height="16.10" fill="#ec3548"/>
<line x1="338.5" x2="338.5" y1="155.00" y2="162.50" stroke="#ec3548" stroke-width="1.1"/>
<rect x="337.10" y="156.90" width="2.8" height="1.85" fill="#ec3548"/>
<line x1="341.5" x2="341.5" y1="156.25" y2="172.50" stroke="#ec3548" stroke-width="1.1"/>
<rect x="340.10" y="158.00" width="2.8" height="12.60" fill="#ec3548"/>
<line x1="345.5" x2="345.5" y1="159.40" y2="171.90" stroke="#0a987f" stroke-width="1.1"/>
<rect x="344.10" y="160.60" width="2.8" height="10.65" fill="#0a987f"/>
<line x1="348.5" x2="348.5" y1="150.60" y2="163.00" stroke="#0a987f" stroke-width="1.1"/>
<rect x="347.10" y="153.75" width="2.8" height="7.50" fill="#0a987f"/>
<line x1="351.5" x2="351.5" y1="141.90" y2="169.40" stroke="#ec3548" stroke-width="1.1"/>
<rect x="350.10" y="156.25" width="2.8" height="12.50" fill="#ec3548"/>
<line x1="354.5" x2="354.5" y1="165.60" y2="180.60" stroke="#ec3548" stroke-width="1.1"/>
<rect x="353.10" y="166.25" width="2.8" height="9.35" fill="#ec3548"/>
<line x1="357.5" x2="357.5" y1="171.25" y2="184.40" stroke="#ec3548" stroke-width="1.1"/>
<rect x="356.10" y="173.00" width="2.8" height="5.75" fill="#ec3548"/>
<line x1="360.5" x2="360.5" y1="163.75" y2="182.50" stroke="#0a987f" stroke-width="1.1"/>
<rect x="359.10" y="177.50" width="2.8" height="1.00" fill="#0a987f"/>
<line x1="363.5" x2="363.5" y1="168.00" y2="186.25" stroke="#ec3548" stroke-width="1.1"/>
<rect x="362.10" y="176.25" width="2.8" height="2.50" fill="#ec3548"/>
<line x1="366.5" x2="366.5" y1="181.25" y2="202.50" stroke="#ec3548" stroke-width="1.1"/>
<rect x="365.10" y="183.75" width="2.8" height="15.65" fill="#ec3548"/>
<line x1="369.5" x2="369.5" y1="185.60" y2="203.00" stroke="#ec3548" stroke-width="1.1"/>
<rect x="368.10" y="194.60" width="2.8" height="1.00" fill="#ec3548"/>
<line x1="372.5" x2="372.5" y1="175.00" y2="196.25" stroke="#0a987f" stroke-width="1.1"/>
<rect x="371.10" y="191.25" width="2.8" height="3.75" fill="#0a987f"/>
<line x1="375.5" x2="375.5" y1="185.00" y2="198.75" stroke="#0a987f" stroke-width="1.1"/>
<rect x="374.10" y="193.75" width="2.8" height="2.50" fill="#0a987f"/>
<line x1="378.5" x2="378.5" y1="188.00" y2="204.40" stroke="#0a987f" stroke-width="1.1"/>
<rect x="377.10" y="193.00" width="2.8" height="7.60" fill="#0a987f"/>
<line x1="381.5" x2="381.5" y1="180.00" y2="200.60" stroke="#ec3548" stroke-width="1.1"/>
<rect x="380.10" y="186.90" width="2.8" height="1.10" fill="#ec3548"/>
<line x1="384.5" x2="384.5" y1="155.00" y2="188.75" stroke="#0a987f" stroke-width="1.1"/>
<rect x="383.10" y="169.40" width="2.8" height="17.50" fill="#0a987f"/>
<line x1="387.5" x2="387.5" y1="144.40" y2="181.25" stroke="#ec3548" stroke-width="1.1"/>
<rect x="386.10" y="161.25" width="2.8" height="13.15" fill="#ec3548"/>
<line x1="390.5" x2="390.5" y1="164.40" y2="187.50" stroke="#ec3548" stroke-width="1.1"/>
<rect x="389.10" y="173.75" width="2.8" height="11.85" fill="#ec3548"/>
<line x1="393.5" x2="393.5" y1="186.25" y2="198.00" stroke="#ec3548" stroke-width="1.1"/>
<rect x="392.10" y="186.25" width="2.8" height="10.65" fill="#ec3548"/>
<line x1="396.5" x2="396.5" y1="187.50" y2="198.00" stroke="#0a987f" stroke-width="1.1"/>
<rect x="395.10" y="193.75" width="2.8" height="3.75" fill="#0a987f"/>
<line x1="399.5" x2="399.5" y1="194.00" y2="197.00" stroke="#ec3548" stroke-width="1.1"/>
<rect x="398.10" y="195.00" width="2.8" height="1.25" fill="#ec3548"/>
<line x1="402.5" x2="402.5" y1="191.25" y2="229.75" stroke="#ec3548" stroke-width="1.1"/>
<rect x="401.10" y="191.25" width="2.8" height="27.75" fill="#ec3548"/>
<line x1="405.5" x2="405.5" y1="218.50" y2="246.00" stroke="#ec3548" stroke-width="1.1"/>
<rect x="404.10" y="221.00" width="2.8" height="21.25" fill="#ec3548"/>
<line x1="408.5" x2="408.5" y1="242.25" y2="269.50" stroke="#ec3548" stroke-width="1.1"/>
<rect x="407.10" y="242.50" width="2.8" height="10.40" fill="#ec3548"/>
<line x1="411.5" x2="411.5" y1="242.50" y2="261.00" stroke="#ec3548" stroke-width="1.1"/>
<rect x="410.10" y="254.00" width="2.8" height="5.00" fill="#ec3548"/>
<line x1="414.5" x2="414.5" y1="255.00" y2="282.50" stroke="#ec3548" stroke-width="1.1"/>
<rect x="413.10" y="255.20" width="2.8" height="22.30" fill="#ec3548"/>
<line x1="417.5" x2="417.5" y1="274.40" y2="284.40" stroke="#0a987f" stroke-width="1.1"/>
<rect x="416.10" y="280.00" width="2.8" height="3.00" fill="#0a987f"/>
<line x1="420.5" x2="420.5" y1="276.25" y2="284.40" stroke="#ec3548" stroke-width="1.1"/>
<rect x="419.10" y="276.25" width="2.8" height="5.65" fill="#ec3548"/>
<line x1="423.5" x2="423.5" y1="265.00" y2="305.60" stroke="#0a987f" stroke-width="1.1"/>
<rect x="422.10" y="266.80" width="2.8" height="12.60" fill="#0a987f"/>
<line x1="426.5" x2="426.5" y1="246.00" y2="271.25" stroke="#0a987f" stroke-width="1.1"/>
<rect x="425.10" y="262.40" width="2.8" height="3.70" fill="#0a987f"/>
<line x1="429.5" x2="429.5" y1="252.40" y2="275.60" stroke="#0a987f" stroke-width="1.1"/>
<rect x="428.10" y="254.90" width="2.8" height="7.80" fill="#0a987f"/>
<line x1="432.5" x2="432.5" y1="249.00" y2="265.40" stroke="#ec3548" stroke-width="1.1"/>
<rect x="431.10" y="250.50" width="2.8" height="14.70" fill="#ec3548"/>
<line x1="435.5" x2="435.5" y1="256.10" y2="268.20" stroke="#0a987f" stroke-width="1.1"/>
<rect x="434.10" y="259.90" width="2.8" height="7.80" fill="#0a987f"/>
<line x1="438.5" x2="438.5" y1="252.40" y2="266.10" stroke="#0a987f" stroke-width="1.1"/>
<rect x="437.10" y="253.00" width="2.8" height="9.70" fill="#0a987f"/>
<line x1="441.5" x2="441.5" y1="242.25" y2="252.90" stroke="#0a987f" stroke-width="1.1"/>
<rect x="440.10" y="244.00" width="2.8" height="8.25" fill="#0a987f"/>
<line x1="445.5" x2="445.5" y1="231.00" y2="249.00" stroke="#0a987f" stroke-width="1.1"/>
<rect x="444.10" y="238.50" width="2.8" height="5.50" fill="#0a987f"/>
<line x1="448.5" x2="448.5" y1="232.25" y2="249.00" stroke="#ec3548" stroke-width="1.1"/>
<rect x="447.10" y="232.90" width="2.8" height="15.00" fill="#ec3548"/>
<line x1="451.5" x2="451.5" y1="227.25" y2="247.25" stroke="#ec3548" stroke-width="1.1"/>
<rect x="450.10" y="244.00" width="2.8" height="2.60" fill="#ec3548"/>
<line x1="454.5" x2="454.5" y1="240.40" y2="256.60" stroke="#ec3548" stroke-width="1.1"/>
<rect x="453.10" y="244.00" width="2.8" height="2.60" fill="#ec3548"/>
<line x1="457.5" x2="457.5" y1="219.75" y2="256.60" stroke="#ec3548" stroke-width="1.1"/>
<rect x="456.10" y="244.00" width="2.8" height="8.25" fill="#ec3548"/>
<line x1="460.5" x2="460.5" y1="242.90" y2="252.25" stroke="#ec3548" stroke-width="1.1"/>
<rect x="459.10" y="244.00" width="2.8" height="7.60" fill="#ec3548"/>
<line x1="463.5" x2="463.5" y1="247.25" y2="257.25" stroke="#ec3548" stroke-width="1.1"/>
<rect x="462.10" y="251.00" width="2.8" height="2.50" fill="#ec3548"/>
<line x1="466.5" x2="466.5" y1="232.25" y2="269.50" stroke="#ec3548" stroke-width="1.1"/>
<rect x="465.10" y="251.00" width="2.8" height="14.20" fill="#ec3548"/>
<line x1="469.5" x2="469.5" y1="260.50" y2="272.50" stroke="#ec3548" stroke-width="1.1"/>
<rect x="468.10" y="264.20" width="2.8" height="2.20" fill="#ec3548"/>
<line x1="472.5" x2="472.5" y1="262.40" y2="276.90" stroke="#ec3548" stroke-width="1.1"/>
<rect x="471.10" y="266.10" width="2.8" height="7.65" fill="#ec3548"/>
<line x1="475.5" x2="475.5" y1="263.60" y2="278.00" stroke="#ec3548" stroke-width="1.1"/>
<rect x="474.10" y="273.00" width="2.8" height="2.60" fill="#ec3548"/>
<line x1="478.5" x2="478.5" y1="270.00" y2="281.25" stroke="#0a987f" stroke-width="1.1"/>
<rect x="477.10" y="275.00" width="2.8" height="1.00" fill="#0a987f"/>
<line x1="481.5" x2="481.5" y1="270.60" y2="276.25" stroke="#0a987f" stroke-width="1.1"/>
<rect x="480.10" y="272.23" width="2.8" height="1.00" fill="#0a987f"/>
<line x1="484.5" x2="484.5" y1="248.30" y2="270.00" stroke="#0a987f" stroke-width="1.1"/>
<rect x="483.10" y="261.10" width="2.8" height="5.70" fill="#0a987f"/>
<line x1="487.5" x2="487.5" y1="232.40" y2="269.30" stroke="#0a987f" stroke-width="1.1"/>
<rect x="486.10" y="253.40" width="2.8" height="7.10" fill="#0a987f"/>
<line x1="490.5" x2="490.5" y1="236.10" y2="258.90" stroke="#0a987f" stroke-width="1.1"/>
<rect x="489.10" y="247.90" width="2.8" height="5.70" fill="#0a987f"/>
<line x1="493.5" x2="493.5" y1="240.00" y2="255.60" stroke="#0a987f" stroke-width="1.1"/>
<rect x="492.10" y="240.50" width="2.8" height="5.30" fill="#0a987f"/>
<line x1="496.5" x2="496.5" y1="195.00" y2="237.50" stroke="#0a987f" stroke-width="1.1"/>
<rect x="495.10" y="210.00" width="2.8" height="24.40" fill="#0a987f"/>
<line x1="499.5" x2="499.5" y1="206.25" y2="221.90" stroke="#ec3548" stroke-width="1.1"/>
<rect x="498.10" y="207.50" width="2.8" height="10.50" fill="#ec3548"/>
<line x1="502.5" x2="502.5" y1="206.25" y2="230.60" stroke="#ec3548" stroke-width="1.1"/>
<rect x="501.10" y="215.00" width="2.8" height="15.60" fill="#ec3548"/>
<line x1="505.5" x2="505.5" y1="221.25" y2="247.50" stroke="#0a987f" stroke-width="1.1"/>
<rect x="504.10" y="225.60" width="2.8" height="1.90" fill="#0a987f"/>
<line x1="508.5" x2="508.5" y1="216.25" y2="235.60" stroke="#ec3548" stroke-width="1.1"/>
<rect x="507.10" y="223.00" width="2.8" height="4.50" fill="#ec3548"/>
<line x1="511.5" x2="511.5" y1="231.90" y2="242.50" stroke="#ec3548" stroke-width="1.1"/>
<rect x="510.10" y="232.50" width="2.8" height="8.75" fill="#ec3548"/>
<line x1="514.5" x2="514.5" y1="241.25" y2="246.90" stroke="#ec3548" stroke-width="1.1"/>
<rect x="513.10" y="241.90" width="2.8" height="4.35" fill="#ec3548"/>
<line x1="517.5" x2="517.5" y1="226.90" y2="248.00" stroke="#0a987f" stroke-width="1.1"/>
<rect x="516.10" y="231.90" width="2.8" height="12.50" fill="#0a987f"/>
<line x1="520.5" x2="520.5" y1="226.25" y2="236.90" stroke="#0a987f" stroke-width="1.1"/>
<rect x="519.10" y="230.60" width="2.8" height="1.30" fill="#0a987f"/>
<line x1="523.5" x2="523.5" y1="226.90" y2="238.75" stroke="#0a987f" stroke-width="1.1"/>
<rect x="522.10" y="230.00" width="2.8" height="1.00" fill="#0a987f"/>
<line x1="526.5" x2="526.5" y1="226.90" y2="254.40" stroke="#ec3548" stroke-width="1.1"/>
<rect x="525.10" y="230.00" width="2.8" height="17.50" fill="#ec3548"/>
<line x1="529.5" x2="529.5" y1="241.25" y2="254.40" stroke="#0a987f" stroke-width="1.1"/>
<rect x="528.10" y="246.18" width="2.8" height="1.00" fill="#0a987f"/>
<line x1="532.5" x2="532.5" y1="241.90" y2="250.00" stroke="#ec3548" stroke-width="1.1"/>
<rect x="531.10" y="243.00" width="2.8" height="3.25" fill="#ec3548"/>
<line x1="535.5" x2="535.5" y1="245.00" y2="247.50" stroke="#ec3548" stroke-width="1.1"/>
<rect x="534.10" y="245.60" width="2.8" height="1.30" fill="#ec3548"/>
<line x1="538.5" x2="538.5" y1="237.50" y2="263.75" stroke="#ec3548" stroke-width="1.1"/>
<rect x="537.10" y="246.90" width="2.8" height="5.60" fill="#ec3548"/>
<line x1="541.5" x2="541.5" y1="238.20" y2="255.20" stroke="#ec3548" stroke-width="1.1"/>
<rect x="540.10" y="247.70" width="2.8" height="1.20" fill="#ec3548"/>
<line x1="544.5" x2="544.5" y1="245.20" y2="255.20" stroke="#0a987f" stroke-width="1.1"/>
<rect x="543.10" y="248.60" width="2.8" height="1.10" fill="#0a987f"/>
<line x1="548.5" x2="548.5" y1="245.50" y2="258.50" stroke="#ec3548" stroke-width="1.1"/>
<rect x="547.10" y="249.20" width="2.8" height="7.20" fill="#ec3548"/>
<line x1="551.5" x2="551.5" y1="253.60" y2="262.70" stroke="#ec3548" stroke-width="1.1"/>
<rect x="550.10" y="255.50" width="2.8" height="3.70" fill="#ec3548"/>
<line x1="554.5" x2="554.5" y1="255.40" y2="260.40" stroke="#ec3548" stroke-width="1.1"/>
<rect x="553.10" y="256.10" width="2.8" height="2.80" fill="#ec3548"/>
<line x1="557.5" x2="557.5" y1="256.00" y2="259.30" stroke="#ec3548" stroke-width="1.1"/>
<rect x="556.10" y="256.70" width="2.8" height="1.80" fill="#ec3548"/>
<line x1="560.5" x2="560.5" y1="251.10" y2="258.00" stroke="#0a987f" stroke-width="1.1"/>
<rect x="559.10" y="255.50" width="2.8" height="2.00" fill="#0a987f"/>
<line x1="563.5" x2="563.5" y1="252.00" y2="269.75" stroke="#ec3548" stroke-width="1.1"/>
<rect x="562.10" y="253.00" width="2.8" height="14.90" fill="#ec3548"/>
<line x1="566.5" x2="566.5" y1="257.25" y2="268.50" stroke="#ec3548" stroke-width="1.1"/>
<rect x="565.10" y="263.90" width="2.8" height="2.60" fill="#ec3548"/>
<line x1="569.5" x2="569.5" y1="263.50" y2="267.25" stroke="#ec3548" stroke-width="1.1"/>
<rect x="568.10" y="264.60" width="2.8" height="1.90" fill="#ec3548"/>
<line x1="572.5" x2="572.5" y1="264.10" y2="267.25" stroke="#0a987f" stroke-width="1.1"/>
<rect x="571.10" y="265.50" width="2.8" height="1.40" fill="#0a987f"/>
<line x1="575.5" x2="575.5" y1="260.80" y2="266.60" stroke="#ec3548" stroke-width="1.1"/>
<rect x="574.10" y="261.10" width="2.8" height="4.70" fill="#ec3548"/>
<line x1="578.5" x2="578.5" y1="264.00" y2="266.40" stroke="#ec3548" stroke-width="1.1"/>
<rect x="577.10" y="264.50" width="2.8" height="1.25" fill="#ec3548"/>
<line x1="581.5" x2="581.5" y1="253.40" y2="265.40" stroke="#0a987f" stroke-width="1.1"/>
<rect x="580.10" y="254.00" width="2.8" height="10.00" fill="#0a987f"/>
<line x1="584.5" x2="584.5" y1="252.30" y2="261.60" stroke="#0a987f" stroke-width="1.1"/>
<rect x="583.10" y="254.60" width="2.8" height="1.90" fill="#0a987f"/>
<line x1="587.5" x2="587.5" y1="254.00" y2="265.40" stroke="#ec3548" stroke-width="1.1"/>
<rect x="586.10" y="254.50" width="2.8" height="8.10" fill="#ec3548"/>
<line x1="590.5" x2="590.5" y1="260.40" y2="264.75" stroke="#0a987f" stroke-width="1.1"/>
<rect x="589.10" y="261.55" width="2.8" height="1.00" fill="#0a987f"/>
<line x1="593.5" x2="593.5" y1="259.75" y2="276.00" stroke="#ec3548" stroke-width="1.1"/>
<rect x="592.10" y="259.75" width="2.8" height="16.25" fill="#ec3548"/>
<line x1="596.5" x2="596.5" y1="268.50" y2="274.75" stroke="#ec3548" stroke-width="1.1"/>
<rect x="595.10" y="269.00" width="2.8" height="3.90" fill="#ec3548"/>
<line x1="599.5" x2="599.5" y1="261.00" y2="274.75" stroke="#ec3548" stroke-width="1.1"/>
<rect x="598.10" y="269.00" width="2.8" height="3.25" fill="#ec3548"/>
<line x1="602.5" x2="602.5" y1="266.00" y2="275.40" stroke="#ec3548" stroke-width="1.1"/>
<rect x="601.10" y="267.90" width="2.8" height="7.50" fill="#ec3548"/>
<line x1="605.5" x2="605.5" y1="270.40" y2="281.00" stroke="#ec3548" stroke-width="1.1"/>
<rect x="604.10" y="273.50" width="2.8" height="1.25" fill="#ec3548"/>
<line x1="608.5" x2="608.5" y1="271.00" y2="283.50" stroke="#ec3548" stroke-width="1.1"/>
<rect x="607.10" y="275.40" width="2.8" height="3.60" fill="#ec3548"/>
<line x1="611.5" x2="611.5" y1="273.50" y2="281.60" stroke="#ec3548" stroke-width="1.1"/>
<rect x="610.10" y="276.00" width="2.8" height="5.60" fill="#ec3548"/>
<line x1="614.5" x2="614.5" y1="274.00" y2="303.25" stroke="#ec3548" stroke-width="1.1"/>
<rect x="613.10" y="276.00" width="2.8" height="22.60" fill="#ec3548"/>
<line x1="617.5" x2="617.5" y1="300.00" y2="322.50" stroke="#ec3548" stroke-width="1.1"/>
<rect x="616.10" y="301.20" width="2.8" height="14.40" fill="#ec3548"/>
<line x1="620.5" x2="620.5" y1="314.40" y2="330.60" stroke="#ec3548" stroke-width="1.1"/>
<rect x="619.10" y="315.60" width="2.8" height="8.15" fill="#ec3548"/>
<line x1="623.5" x2="623.5" y1="315.60" y2="341.25" stroke="#0a987f" stroke-width="1.1"/>
<rect x="622.10" y="320.60" width="2.8" height="3.80" fill="#0a987f"/>
<line x1="626.5" x2="626.5" y1="316.25" y2="332.50" stroke="#ec3548" stroke-width="1.1"/>
<rect x="625.10" y="318.75" width="2.8" height="13.75" fill="#ec3548"/>
<line x1="629.5" x2="629.5" y1="328.00" y2="340.00" stroke="#ec3548" stroke-width="1.1"/>
<rect x="628.10" y="330.00" width="2.8" height="6.25" fill="#ec3548"/>
<line x1="632.5" x2="632.5" y1="335.60" y2="339.40" stroke="#0a987f" stroke-width="1.1"/>
<rect x="631.10" y="335.50" width="2.8" height="1.00" fill="#0a987f"/>
<line x1="635.5" x2="635.5" y1="337.00" y2="339.20" stroke="#ec3548" stroke-width="1.1"/>
<rect x="634.10" y="337.40" width="2.8" height="1.40" fill="#ec3548"/>
<line x1="638.5" x2="638.5" y1="335.00" y2="345.00" stroke="#ec3548" stroke-width="1.1"/>
<rect x="637.10" y="335.25" width="2.8" height="7.75" fill="#ec3548"/>
<line x1="641.5" x2="641.5" y1="341.25" y2="361.25" stroke="#ec3548" stroke-width="1.1"/>
<rect x="640.10" y="345.00" width="2.8" height="12.50" fill="#ec3548"/>
<line x1="644.5" x2="644.5" y1="356.25" y2="371.90" stroke="#ec3548" stroke-width="1.1"/>
<rect x="643.10" y="361.25" width="2.8" height="6.25" fill="#ec3548"/>
<line x1="648.5" x2="648.5" y1="363.75" y2="382.50" stroke="#ec3548" stroke-width="1.1"/>
<rect x="647.10" y="365.60" width="2.8" height="13.80" fill="#ec3548"/>
<line x1="651.5" x2="651.5" y1="373.00" y2="387.50" stroke="#ec3548" stroke-width="1.1"/>
<rect x="650.10" y="378.00" width="2.8" height="5.75" fill="#ec3548"/>
<line x1="654.5" x2="654.5" y1="382.50" y2="396.25" stroke="#ec3548" stroke-width="1.1"/>
<rect x="653.10" y="386.25" width="2.8" height="10.00" fill="#ec3548"/>
<line x1="657.5" x2="657.5" y1="389.40" y2="396.25" stroke="#0a987f" stroke-width="1.1"/>
<rect x="656.10" y="392.50" width="2.8" height="3.75" fill="#0a987f"/>
<line x1="660.5" x2="660.5" y1="381.25" y2="395.60" stroke="#0a987f" stroke-width="1.1"/>
<rect x="659.10" y="383.00" width="2.8" height="9.50" fill="#0a987f"/>
<line x1="663.5" x2="663.5" y1="380.00" y2="388.75" stroke="#ec3548" stroke-width="1.1"/>
<rect x="662.10" y="383.00" width="2.8" height="1.00" fill="#ec3548"/>
<line x1="666.5" x2="666.5" y1="379.40" y2="408.40" stroke="#ec3548" stroke-width="1.1"/>
<rect x="665.10" y="383.00" width="2.8" height="16.40" fill="#ec3548"/>
<line x1="669.5" x2="669.5" y1="390.60" y2="418.00" stroke="#ec3548" stroke-width="1.1"/>
<rect x="668.10" y="398.00" width="2.8" height="5.20" fill="#ec3548"/>
</g>
<text x="853" y="49.90" font-family="Liberation Sans, sans-serif" font-size="12" fill="#131722" stroke="#131722" stroke-width="0.2">800,0</text>
<text x="853" y="89.00" font-family="Liberation Sans, sans-serif" font-size="12" fill="#131722" stroke="#131722" stroke-width="0.2">760,0</text>
<text x="853" y="128.10" font-family="Liberation Sans, sans-serif" font-size="12" fill="#131722" stroke="#131722" stroke-width="0.2">720,0</text>
<text x="853" y="167.20" font-family="Liberation Sans, sans-serif" font-size="12" fill="#131722" stroke="#131722" stroke-width="0.2">680,0</text>
<text x="853" y="206.30" font-family="Liberation Sans, sans-serif" font-size="12" fill="#131722" stroke="#131722" stroke-width="0.2">640,0</text>
<text x="853" y="284.50" font-family="Liberation Sans, sans-serif" font-size="12" fill="#131722" stroke="#131722" stroke-width="0.2">560,0</text>
<text x="853" y="362.70" font-family="Liberation Sans, sans-serif" font-size="12" fill="#131722" stroke="#131722" stroke-width="0.2">480,0</text>
<text x="853" y="401.80" font-family="Liberation Sans, sans-serif" font-size="12" fill="#131722" stroke="#131722" stroke-width="0.2">440,0</text>
<text x="853" y="440.90" font-family="Liberation Sans, sans-serif" font-size="12" fill="#131722" stroke="#131722" stroke-width="0.2">400,0</text>
<text x="853" y="480.00" font-family="Liberation Sans, sans-serif" font-size="12" fill="#131722" stroke="#131722" stroke-width="0.2">360,0</text>
<rect x="845" y="234" width="42.8" height="16.6" rx="1.3" fill="#9c27b0"/>
<text x="853.2" y="245.6" font-family="Liberation Sans, sans-serif" font-size="11.5" font-weight="bold" fill="#fff">600,0</text>
<rect x="845" y="312" width="42.8" height="16.6" rx="1.3" fill="#9c27b0"/>
<text x="853.2" y="323.6" font-family="Liberation Sans, sans-serif" font-size="11.5" font-weight="bold" fill="#fff">520,0</text>
<rect x="806.5" y="395.2" width="37.2" height="16.4" rx="1.3" fill="#f23645"/>
<text x="811" y="407.6" font-family="Liberation Sans, sans-serif" font-size="12" font-weight="bold" fill="#fff" textLength="28.3" lengthAdjust="spacingAndGlyphs">NKHP</text>
<rect x="845.2" y="395.2" width="42.6" height="16.8" rx="1.3" fill="#f23645"/>
<text x="853.2" y="406.4" font-family="Liberation Sans, sans-serif" font-size="11.5" font-weight="bold" fill="#fff">435,5</text>
<rect x="845.2" y="412" width="42.6" height="16.6" rx="1.3" fill="#f23645"/>
<text x="853.2" y="424.2" font-family="Liberation Sans, sans-serif" font-size="11.5" font-weight="bold" fill="#fff">430,0</text>
<rect x="845.2" y="510" width="51.6" height="17" rx="1.3" fill="#ef5350"/>
<text x="853" y="521.4" font-family="Liberation Sans, sans-serif" font-size="11.3" font-weight="bold" fill="#fff" textLength="38.8" lengthAdjust="spacingAndGlyphs">92,73 K</text>
<text x="51.25" y="545.8" font-family="Liberation Sans, sans-serif" font-size="11.5" fill="#131722" textLength="22.50" lengthAdjust="spacingAndGlyphs" stroke="#131722" stroke-width="0.35">Фев</text>
<text x="112.5" y="545.8" font-family="Liberation Sans, sans-serif" font-size="11.5" fill="#131722" textLength="22.50" lengthAdjust="spacingAndGlyphs" stroke="#131722" stroke-width="0.35">Мар</text>
<text x="176.25" y="545.8" font-family="Liberation Sans, sans-serif" font-size="11.5" fill="#131722" textLength="21.75" lengthAdjust="spacingAndGlyphs" stroke="#131722" stroke-width="0.35">Апр</text>
<text x="243.4" y="545.8" font-family="Liberation Sans, sans-serif" font-size="11.5" fill="#131722" textLength="21.70" lengthAdjust="spacingAndGlyphs" stroke="#131722" stroke-width="0.35">Май</text>
<text x="302.7" y="545.8" font-family="Liberation Sans, sans-serif" font-size="11.5" fill="#131722" textLength="23.40" lengthAdjust="spacingAndGlyphs" stroke="#131722" stroke-width="0.35">Июн</text>
<text x="371.7" y="545.8" font-family="Liberation Sans, sans-serif" font-size="11.5" fill="#131722" textLength="24.50" lengthAdjust="spacingAndGlyphs" stroke="#131722" stroke-width="0.35">Июл</text>
<text x="468" y="545.8" font-family="Liberation Sans, sans-serif" font-size="11.5" fill="#131722" textLength="17.70" lengthAdjust="spacingAndGlyphs" stroke="#131722" stroke-width="0.35">Авг</text>
<text x="549.1" y="545.8" font-family="Liberation Sans, sans-serif" font-size="11.5" fill="#131722" textLength="20.80" lengthAdjust="spacingAndGlyphs" stroke="#131722" stroke-width="0.35">Сен</text>
<text x="634.1" y="545.8" font-family="Liberation Sans, sans-serif" font-size="11.5" fill="#131722" textLength="20.50" lengthAdjust="spacingAndGlyphs" stroke="#131722" stroke-width="0.35">Окт</text>
<text x="721.9" y="545.8" font-family="Liberation Sans, sans-serif" font-size="11.5" fill="#131722" textLength="21.10" lengthAdjust="spacingAndGlyphs" stroke="#131722" stroke-width="0.35">Ноя</text>
<text x="806" y="545.8" font-family="Liberation Sans, sans-serif" font-size="11.5" fill="#131722" textLength="22.00" lengthAdjust="spacingAndGlyphs" stroke="#131722" stroke-width="0.35">Дек</text>
<g fill="#131722"><path d="M12.05 578.1H23.8V592.7H18.2V583.8H12.05Z"/><circle cx="29.05" cy="581" r="2.9"/><path d="M35.4 578.1H41.55L36.1 592.7H29.3Z"/></g>
<text x="49.5" y="592.5" font-family="Liberation Sans, sans-serif" font-size="20" font-weight="bold" fill="#111318" stroke="#111318" stroke-width="0.3" textLength="119.5" lengthAdjust="spacingAndGlyphs">TradingView</text>
<text x="10.6" y="18.8" font-family="Liberation Sans, sans-serif" font-size="12.6" fill="#131722" textLength="58.60" lengthAdjust="spacingAndGlyphs" stroke="#131722" stroke-width="0.18">ru_investor</text>
<text x="74.4" y="18.8" font-family="Liberation Sans, sans-serif" font-size="12.6" fill="#131722" textLength="51.50" lengthAdjust="spacingAndGlyphs" stroke="#131722" stroke-width="0.18">создал(а)</text>
<text x="131.2" y="18.8" font-family="Liberation Sans, sans-serif" font-size="12.6" fill="#131722" textLength="39.50" lengthAdjust="spacingAndGlyphs" stroke="#131722" stroke-width="0.18">график</text>
<text x="175.3" y="18.8" font-family="Liberation Sans, sans-serif" font-size="12.6" fill="#131722" textLength="11.80" lengthAdjust="spacingAndGlyphs" stroke="#131722" stroke-width="0.18">на</text>
<text x="191" y="18.8" font-family="Liberation Sans, sans-serif" font-size="12.6" fill="#131722" textLength="93.60" lengthAdjust="spacingAndGlyphs" stroke="#131722" stroke-width="0.18">TradingView.com,</text>
<text x="289.9" y="18.8" font-family="Liberation Sans, sans-serif" font-size="12.6" fill="#131722" textLength="19.00" lengthAdjust="spacingAndGlyphs" stroke="#131722" stroke-width="0.18">Окт</text>
<text x="314.9" y="18.8" font-family="Liberation Sans, sans-serif" font-size="12.6" fill="#131722" textLength="13.80" lengthAdjust="spacingAndGlyphs" stroke="#131722" stroke-width="0.18">10,</text>
<text x="334.2" y="18.8" font-family="Liberation Sans, sans-serif" font-size="12.6" fill="#131722" textLength="24.00" lengthAdjust="spacingAndGlyphs" stroke="#131722" stroke-width="0.18">2025</text>
<text x="363.4" y="18.8" font-family="Liberation Sans, sans-serif" font-size="12.6" fill="#131722" textLength="27.60" lengthAdjust="spacingAndGlyphs" stroke="#131722" stroke-width="0.18">09:59</text>
<text x="396.3" y="18.8" font-family="Liberation Sans, sans-serif" font-size="12.6" fill="#131722" textLength="33.20" lengthAdjust="spacingAndGlyphs" stroke="#131722" stroke-width="0.18">UTC+5</text>
<text x="18.6" y="45.9" font-family="Liberation Sans, sans-serif" font-size="11.5" fill="#131722" textLength="27.65" lengthAdjust="spacingAndGlyphs" stroke="#131722" stroke-width="0.18">NKHP</text>
<text x="58.75" y="45.9" font-family="Liberation Sans, sans-serif" font-size="11.5" fill="#131722" textLength="28.25" lengthAdjust="spacingAndGlyphs" stroke="#131722" stroke-width="0.18">НКХП</text>
<text x="92.5" y="45.9" font-family="Liberation Sans, sans-serif" font-size="11.5" fill="#131722" textLength="22.5" lengthAdjust="spacingAndGlyphs" stroke="#131722" stroke-width="0.18">ПАО</text>
<text x="119.5" y="45.9" font-family="Liberation Sans, sans-serif" font-size="11.5" fill="#131722" textLength="3.5" lengthAdjust="spacingAndGlyphs" stroke="#131722" stroke-width="0.18">-</text>
<text x="127" y="45.9" font-family="Liberation Sans, sans-serif" font-size="11.5" fill="#131722" textLength="36.75" lengthAdjust="spacingAndGlyphs" stroke="#131722" stroke-width="0.18">обыкн.</text>
<text x="177" y="45.9" font-family="Liberation Sans, sans-serif" font-size="11.5" fill="#131722" textLength="14.25" lengthAdjust="spacingAndGlyphs" stroke="#131722" stroke-width="0.18">1Д</text>
<text x="203.75" y="45.9" font-family="Liberation Sans, sans-serif" font-size="11.5" fill="#131722" textLength="18.75" lengthAdjust="spacingAndGlyphs" stroke="#131722" stroke-width="0.18">RUS</text>
<rect x="51.60" y="41" width="2" height="2" fill="#131722"/>
<rect x="169.50" y="41" width="2" height="2" fill="#131722"/>
<rect x="196.40" y="41" width="2" height="2" fill="#131722"/>
<text x="230.5" y="45.9" font-family="Liberation Sans, sans-serif" font-size="11.5" fill="#131722" textLength="29.5" lengthAdjust="spacingAndGlyphs" stroke="#131722" stroke-width="0.18">ОТКР</text>
<text x="260" y="45.9" font-family="Liberation Sans, sans-serif" font-size="11.5" fill="#cb3f4e" textLength="29.5" lengthAdjust="spacingAndGlyphs">440,0</text>
<text x="297" y="45.9" font-family="Liberation Sans, sans-serif" font-size="11.5" fill="#131722" textLength="30" lengthAdjust="spacingAndGlyphs" stroke="#131722" stroke-width="0.18">МАКС</text>
<text x="327" y="45.9" font-family="Liberation Sans, sans-serif" font-size="11.5" fill="#cb3f4e" textLength="30.5" lengthAdjust="spacingAndGlyphs">447,0</text>
<text x="363.8" y="45.9" font-family="Liberation Sans, sans-serif" font-size="11.5" fill="#131722" textLength="25" lengthAdjust="spacingAndGlyphs" stroke="#131722" stroke-width="0.18">МИН</text>
<text x="388.8" y="45.9" font-family="Liberation Sans, sans-serif" font-size="11.5" fill="#cb3f4e" textLength="30" lengthAdjust="spacingAndGlyphs">420,0</text>
<text x="426.2" y="45.9" font-family="Liberation Sans, sans-serif" font-size="11.5" fill="#131722" textLength="27" lengthAdjust="spacingAndGlyphs" stroke="#131722" stroke-width="0.18">ЗАКР</text>
<text x="453.2" y="45.9" font-family="Liberation Sans, sans-serif" font-size="11.5" fill="#cb3f4e" textLength="29.3" lengthAdjust="spacingAndGlyphs">435,5</text>
<text x="490.5" y="45.9" font-family="Liberation Sans, sans-serif" font-size="11.5" fill="#cb3f4e" textLength="72" lengthAdjust="spacingAndGlyphs">−4,0 (−0,91%)</text>
<text x="18.4" y="62.6" font-family="Liberation Sans, sans-serif" font-size="11.5" fill="#131722" textLength="35" lengthAdjust="spacingAndGlyphs" stroke="#131722" stroke-width="0.18">Объём</text>
<text x="62.5" y="62.6" font-family="Liberation Sans, sans-serif" font-size="11.5" fill="#e0525a" textLength="37.5" lengthAdjust="spacingAndGlyphs">92,73 K</text>
</svg>
</body></html>
